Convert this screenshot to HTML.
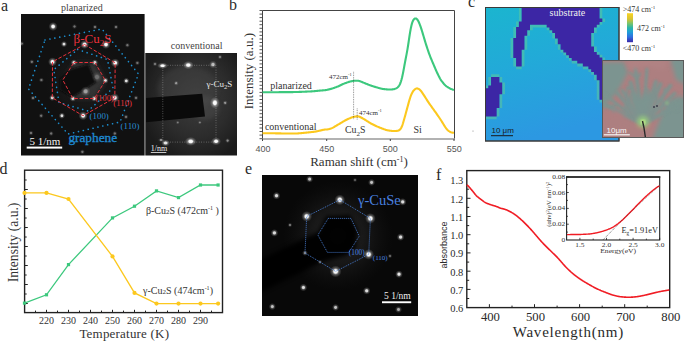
<!DOCTYPE html><html><head><meta charset="utf-8"><style>html,body{margin:0;padding:0;background:#fff;overflow:hidden;}svg{display:block;}</style></head><body>
<svg width="685" height="341" viewBox="0 0 685 341">
<defs>
<radialGradient id="sp"><stop offset="0" stop-color="#fff" stop-opacity="1"/><stop offset="0.3" stop-color="#fff" stop-opacity="0.95"/><stop offset="0.55" stop-color="#ddd" stop-opacity="0.35"/><stop offset="1" stop-color="#bbb" stop-opacity="0"/></radialGradient>
<radialGradient id="glowA" cx="0.5" cy="0.5" r="0.5"><stop offset="0" stop-color="#555" stop-opacity="0.9"/><stop offset="0.6" stop-color="#333" stop-opacity="0.5"/><stop offset="1" stop-color="#222" stop-opacity="0"/></radialGradient>
<radialGradient id="glowE"><stop offset="0" stop-color="#3a3a3a" stop-opacity="0.8"/><stop offset="0.5" stop-color="#2a2a2a" stop-opacity="0.45"/><stop offset="1" stop-color="#1a1a1a" stop-opacity="0"/></radialGradient>
<radialGradient id="glowC" cx="0.55" cy="0.45" r="0.62"><stop offset="0" stop-color="#3e3e3e"/><stop offset="0.6" stop-color="#2c2c2c"/><stop offset="1" stop-color="#1b1b1b"/></radialGradient>
<linearGradient id="cbar" x1="0" y1="0" x2="0" y2="1">
<stop offset="0" stop-color="#f9d423"/><stop offset="0.2" stop-color="#d8c231"/><stop offset="0.35" stop-color="#7cc46a"/><stop offset="0.5" stop-color="#2bb5a8"/><stop offset="0.65" stop-color="#1e9fd8"/><stop offset="0.82" stop-color="#2f6fe0"/><stop offset="1" stop-color="#3c27a8"/></linearGradient>
<linearGradient id="mapg" x1="0" y1="0" x2="0.25" y2="1"><stop offset="0" stop-color="#1bb5cf"/><stop offset="0.45" stop-color="#22aad8"/><stop offset="1" stop-color="#2c98e2"/></linearGradient><filter id="bl2" x="-20%" y="-20%" width="140%" height="140%"><feGaussianBlur stdDeviation="2"/></filter><filter id="bl1"><feGaussianBlur stdDeviation="0.8"/></filter><clipPath id="eclip"><rect x="262" y="175" width="156" height="141"/></clipPath><clipPath id="insclip"><rect x="602.5" y="60.5" width="81" height="77"/></clipPath>
<linearGradient id="photo" x1="0" y1="0" x2="1" y2="1"><stop offset="0" stop-color="#8e8a80"/><stop offset="0.3" stop-color="#a57f80"/><stop offset="0.6" stop-color="#9a8a84"/><stop offset="1" stop-color="#8a9480"/></linearGradient>
</defs>
<rect width="685" height="341" fill="#fff"/>
<text x="1" y="11" font-family='"Liberation Serif", serif' font-size="16" fill="#2a2a2a" text-anchor="start" >a</text>
<text x="229" y="10.3" font-family='"Liberation Serif", serif' font-size="16" fill="#2a2a2a" text-anchor="start" >b</text>
<text x="468" y="6.8" font-family='"Liberation Serif", serif' font-size="16" fill="#2a2a2a" text-anchor="start" >c</text>
<text x="-0.5" y="174" font-family='"Liberation Serif", serif' font-size="16" fill="#2a2a2a" text-anchor="start" >d</text>
<text x="245" y="174.3" font-family='"Liberation Serif", serif' font-size="16" fill="#2a2a2a" text-anchor="start" >e</text>
<text x="436" y="180.3" font-family='"Liberation Serif", serif' font-size="16" fill="#2a2a2a" text-anchor="start" >f</text>
<text x="61" y="10.6" font-family='"Liberation Serif", serif' font-size="10" fill="#444" text-anchor="start" >planarized</text>
<rect x="21" y="14" width="123.6" height="141.5" fill="#111"/>
<circle cx="85" cy="82" r="40" fill="url(#glowA)" opacity="0.35"/>
<polygon points="74,63 95,63 105.5,81 94.5,98.5 72.5,98.5 62.5,80" fill="#3a3a3a" opacity="0.75" filter="url(#bl2)"/>
<polygon points="69.5,69.5 88.5,64.0 96.0,82.5 72.0,97.5 60.0,90.0 60.0,79.0" fill="#0a0a0a" filter="url(#bl1)"/>
<circle cx="85.6" cy="91.3" r="5" fill="url(#sp)" opacity="0.55"/>
<circle cx="97.0" cy="77.0" r="5.5" fill="url(#sp)" opacity="0.3"/>
<circle cx="84.6" cy="44.5" r="4.5" fill="url(#sp)" opacity="1.0"/>
<circle cx="106.0" cy="44.5" r="4.5" fill="url(#sp)" opacity="1.0"/>
<circle cx="115.2" cy="62.9" r="4.5" fill="url(#sp)" opacity="1.0"/>
<circle cx="52.5" cy="61.8" r="4.5" fill="url(#sp)" opacity="1.0"/>
<circle cx="83.1" cy="115.7" r="4.5" fill="url(#sp)" opacity="1.0"/>
<circle cx="53.1" cy="26.5" r="4.5" fill="url(#sp)" opacity="1.0"/>
<circle cx="114.8" cy="97.8" r="4.5" fill="url(#sp)" opacity="1.0"/>
<circle cx="64.0" cy="44.1" r="3.2" fill="url(#sp)" opacity="0.9"/>
<circle cx="73.9" cy="62.5" r="3.2" fill="url(#sp)" opacity="0.9"/>
<circle cx="94.9" cy="62.5" r="3.2" fill="url(#sp)" opacity="0.9"/>
<circle cx="105.4" cy="80.5" r="3.2" fill="url(#sp)" opacity="0.9"/>
<circle cx="72.9" cy="98.5" r="3.2" fill="url(#sp)" opacity="0.9"/>
<circle cx="94.3" cy="98.5" r="3.2" fill="url(#sp)" opacity="0.9"/>
<circle cx="61.9" cy="115.7" r="3.2" fill="url(#sp)" opacity="0.9"/>
<circle cx="126.3" cy="80.9" r="3.2" fill="url(#sp)" opacity="0.9"/>
<circle cx="52.3" cy="97.8" r="3.2" fill="url(#sp)" opacity="0.9"/>
<circle cx="74.5" cy="26.5" r="2.6" fill="url(#sp)" opacity="0.42"/>
<circle cx="116.0" cy="27.0" r="2.6" fill="url(#sp)" opacity="0.42"/>
<circle cx="127.4" cy="45.2" r="2.6" fill="url(#sp)" opacity="0.42"/>
<circle cx="137.4" cy="62.9" r="2.6" fill="url(#sp)" opacity="0.42"/>
<circle cx="31.8" cy="61.8" r="2.6" fill="url(#sp)" opacity="0.42"/>
<circle cx="41.4" cy="80.0" r="2.6" fill="url(#sp)" opacity="0.42"/>
<circle cx="21.7" cy="43.6" r="2.6" fill="url(#sp)" opacity="0.42"/>
<circle cx="41.2" cy="115.7" r="2.6" fill="url(#sp)" opacity="0.42"/>
<circle cx="51.2" cy="133.5" r="2.6" fill="url(#sp)" opacity="0.42"/>
<circle cx="114.8" cy="133.5" r="2.6" fill="url(#sp)" opacity="0.42"/>
<circle cx="126.0" cy="116.8" r="2.6" fill="url(#sp)" opacity="0.42"/>
<circle cx="136.0" cy="97.8" r="2.6" fill="url(#sp)" opacity="0.42"/>
<circle cx="82.4" cy="151.8" r="2.6" fill="url(#sp)" opacity="0.42"/>
<circle cx="33.0" cy="98.0" r="2.6" fill="url(#sp)" opacity="0.42"/>
<circle cx="95.0" cy="27.0" r="2.6" fill="url(#sp)" opacity="0.42"/>
<circle cx="31.0" cy="133.0" r="2.6" fill="url(#sp)" opacity="0.42"/>
<polygon points="45.0,40.0 102.0,29.0 138.5,74.0 120.0,122.0 68.0,134.0 28.5,89.0" fill="none" stroke="#1c8fd0" stroke-width="1.6" stroke-dasharray="0.1 4.9" stroke-linecap="round" stroke-linejoin="round"/>
<polygon points="77.6,49.5 107.5,59.5 113.0,88.0 88.0,111.0 59.0,102.5 53.8,69.6" fill="none" stroke="#1c8fd0" stroke-width="1.6" stroke-dasharray="0.1 4.9" stroke-linecap="round" stroke-linejoin="round"/>
<polygon points="84.6,44.5 115.2,62.9 114.8,97.8 83.1,115.7 52.3,97.8 52.5,61.8" fill="none" stroke="#e8323c" stroke-width="1" stroke-dasharray="3.5 1.8"/>
<polygon points="73.9,62.5 94.9,62.5 105.4,80.5 94.3,98.5 72.9,98.5 62.8,80.0" fill="none" stroke="#e8323c" stroke-width="1" stroke-dasharray="3.5 1.8"/>
<text x="73.6" y="43.2" font-family='"Liberation Serif", serif' font-size="13" fill="#e8323c" text-anchor="start" >&#946;-Cu<tspan font-size="9" dy="3">2</tspan><tspan dy="-3">S</tspan></text>
<text x="95.6" y="100.6" font-family='"Liberation Serif", serif' font-size="8.3" fill="#e8323c" text-anchor="start" >(100)</text>
<text x="113.3" y="106" font-family='"Liberation Serif", serif' font-size="8.8" fill="#e8323c" text-anchor="start" >(110)</text>
<text x="89.6" y="118.7" font-family='"Liberation Serif", serif' font-size="8.9" fill="#2a8fd6" text-anchor="start" >(100)</text>
<text x="120.6" y="129.3" font-family='"Liberation Serif", serif' font-size="8.9" fill="#2a8fd6" text-anchor="start" >(110)</text>
<text x="68.4" y="142.1" font-family='"Liberation Serif", serif' font-size="13.3" fill="#1f88cf" text-anchor="start" stroke="#1f88cf" stroke-width="0.35">graphene</text>
<text x="29.5" y="145.4" font-family='"Liberation Serif", serif' font-size="11" fill="#f4f4f4" text-anchor="start" >5 1/nm</text>
<rect x="26.7" y="146.6" width="35.5" height="2" fill="#fff"/>
<text x="170.8" y="49" font-family='"Liberation Serif", serif' font-size="10" fill="#444" text-anchor="start" >conventional</text>
<rect x="144.8" y="53" width="1.2" height="102.5" fill="#5a5a5a"/>
<rect x="146" y="53" width="91" height="102.5" fill="url(#glowC)"/>
<clipPath id="cclip"><rect x="146" y="53" width="91" height="102.5"/></clipPath>
<g clip-path="url(#cclip)">
<ellipse cx="188" cy="88" rx="30" ry="22" fill="#4a4a4a" opacity="0.35" filter="url(#bl2)"/>
<ellipse cx="205" cy="108" rx="14" ry="12" fill="#555" opacity="0.35" filter="url(#bl2)"/>
<polygon points="140.0,98.5 202.2,93.8 205.0,116.6 140.0,122.8" fill="#0a0a0a"/>
</g>
<rect x="162.8" y="65.3" width="53.2" height="76.8" fill="none" stroke="#aaa" stroke-width="0.7" stroke-dasharray="0.8 1.6" opacity="0.8"/>
<ellipse cx="162.6" cy="65.7" rx="5.5" ry="3.2" fill="url(#sp)" opacity="1"/>
<ellipse cx="188.3" cy="65.1" rx="5.5" ry="4.2" fill="url(#sp)" opacity="1"/>
<ellipse cx="213" cy="64.5" rx="4" ry="4" fill="url(#sp)" opacity="0.7"/>
<ellipse cx="214.9" cy="102.8" rx="5" ry="6" fill="url(#sp)" opacity="1"/>
<ellipse cx="165.6" cy="143" rx="4.5" ry="3.5" fill="url(#sp)" opacity="0.9"/>
<ellipse cx="190.7" cy="141.4" rx="6" ry="4.5" fill="url(#sp)" opacity="1"/>
<ellipse cx="216.1" cy="141.3" rx="5" ry="4" fill="url(#sp)" opacity="1"/>
<ellipse cx="176.2" cy="83.2" rx="2.5" ry="2.5" fill="url(#sp)" opacity="0.5"/>
<ellipse cx="227.6" cy="140.6" rx="2.5" ry="2.5" fill="url(#sp)" opacity="0.5"/>
<ellipse cx="225.2" cy="102.8" rx="2.5" ry="2.5" fill="url(#sp)" opacity="0.5"/>
<ellipse cx="155" cy="64" rx="2.5" ry="2.5" fill="url(#sp)" opacity="0.4"/>
<ellipse cx="220" cy="57" rx="2.5" ry="2.5" fill="url(#sp)" opacity="0.4"/>
<ellipse cx="177.7" cy="122.5" rx="2" ry="2" fill="url(#sp)" opacity="0.4"/>
<ellipse cx="199.8" cy="122.5" rx="2" ry="2" fill="url(#sp)" opacity="0.4"/>
<ellipse cx="161" cy="140" rx="3" ry="2" fill="url(#sp)" opacity="0.5"/>
<text x="206.5" y="86.6" font-family='"Liberation Serif", serif' font-size="9" fill="#e8e8e8" text-anchor="start" >&#947;-Cu<tspan font-size="6.5" dy="2">2</tspan><tspan dy="-2">S</tspan></text>
<text x="150.8" y="151" font-family='"Liberation Serif", serif' font-size="8" fill="#eee" text-anchor="start" >1/nm</text>
<rect x="150.8" y="152" width="15.5" height="0.9" fill="#ddd"/>
<text x="252.7" y="109.2" font-family='"Liberation Serif", serif' font-size="13" fill="#333" text-anchor="start" transform="rotate(-90 252.7 109.2)">Intensity (a.u.)</text>
<path d="M262.5,139 V10.5 H454.5 V139" fill="none" stroke="#444" stroke-width="1"/>
<line x1="262" y1="138.9" x2="455" y2="138.9" stroke="#999" stroke-width="1.5"/>
<path d="M259.5,10.5H262.5M259.5,14.1H262.5M259.5,17.6H262.5M259.5,21.2H262.5M259.5,24.7H262.5M259.5,28.3H262.5M259.5,31.9H262.5M259.5,35.4H262.5M259.5,39.0H262.5M259.5,42.5H262.5M259.5,46.1H262.5M259.5,49.7H262.5M259.5,53.2H262.5M259.5,56.8H262.5M259.5,60.3H262.5M259.5,63.9H262.5M259.5,67.5H262.5M259.5,71.0H262.5M259.5,74.6H262.5M259.5,78.1H262.5M259.5,81.7H262.5M259.5,85.3H262.5M259.5,88.8H262.5M259.5,92.4H262.5M259.5,95.9H262.5M259.5,99.5H262.5M259.5,103.1H262.5M259.5,106.6H262.5M259.5,110.2H262.5M259.5,113.7H262.5M259.5,117.3H262.5M259.5,120.9H262.5M259.5,124.4H262.5M259.5,128.0H262.5M259.5,131.5H262.5M259.5,135.1H262.5M259.5,138.7H262.5" stroke="#444" stroke-width="0.9"/>
<path d="M262.5,139V141 M326.7,139V141 M390.3,139V141 M454,139V141" stroke="#444" stroke-width="1"/>
<text x="262.9" y="152.3" font-family='"Liberation Sans", sans-serif' font-size="9" fill="#555" text-anchor="middle" >400</text>
<text x="326.7" y="152.3" font-family='"Liberation Sans", sans-serif' font-size="9" fill="#555" text-anchor="middle" >450</text>
<text x="390.3" y="152.3" font-family='"Liberation Sans", sans-serif' font-size="9" fill="#555" text-anchor="middle" >500</text>
<text x="454.2" y="152.3" font-family='"Liberation Sans", sans-serif' font-size="9" fill="#555" text-anchor="middle" >550</text>
<text x="310.2" y="166" font-family='"Liberation Serif", serif' font-size="13" fill="#333" text-anchor="start" >Raman shift (cm<tspan font-size="8" dy="-4">-1</tspan><tspan dy="4">)</tspan></text>
<path d="M262.50,92.30 L263.00,92.30 L263.50,92.30 L264.00,92.30 L264.50,92.30 L265.00,92.30 L265.50,92.30 L266.00,92.30 L266.50,92.30 L267.00,92.30 L267.50,92.30 L268.00,92.30 L268.50,92.30 L269.00,92.30 L269.50,92.30 L270.00,92.30 L270.50,92.30 L271.00,92.30 L271.50,92.30 L272.00,92.29 L272.50,92.29 L273.00,92.28 L273.50,92.27 L274.00,92.26 L274.50,92.25 L275.00,92.25 L275.50,92.24 L276.00,92.23 L276.50,92.22 L277.00,92.21 L277.50,92.20 L278.00,92.19 L278.50,92.18 L279.00,92.17 L279.50,92.16 L280.00,92.15 L280.50,92.14 L281.00,92.13 L281.50,92.12 L282.00,92.11 L282.50,92.11 L283.00,92.10 L283.50,92.10 L284.00,92.10 L284.50,92.10 L285.00,92.10 L285.50,92.10 L286.00,92.10 L286.50,92.10 L287.00,92.10 L287.50,92.10 L288.00,92.10 L288.50,92.10 L289.00,92.10 L289.50,92.10 L290.00,92.10 L290.50,92.10 L291.00,92.10 L291.50,92.10 L292.00,92.10 L292.50,92.09 L293.00,92.08 L293.50,92.07 L294.00,92.06 L294.50,92.05 L295.00,92.03 L295.50,92.02 L296.00,92.00 L296.50,91.99 L297.00,91.97 L297.50,91.96 L298.00,91.94 L298.50,91.93 L299.00,91.91 L299.50,91.90 L300.00,91.89 L300.50,91.87 L301.00,91.86 L301.50,91.84 L302.00,91.82 L302.50,91.81 L303.00,91.79 L303.50,91.77 L304.00,91.74 L304.50,91.72 L305.00,91.70 L305.50,91.67 L306.00,91.65 L306.50,91.62 L307.00,91.60 L307.50,91.57 L308.00,91.55 L308.50,91.53 L309.00,91.50 L309.50,91.48 L310.00,91.45 L310.50,91.43 L311.00,91.40 L311.50,91.38 L312.00,91.35 L312.50,91.32 L313.00,91.29 L313.50,91.25 L314.00,91.20 L314.50,91.16 L315.00,91.11 L315.50,91.06 L316.00,91.01 L316.50,90.96 L317.00,90.90 L317.50,90.85 L318.00,90.80 L318.50,90.75 L319.00,90.70 L319.50,90.65 L320.00,90.61 L320.50,90.56 L321.00,90.52 L321.50,90.48 L322.00,90.43 L322.50,90.39 L323.00,90.35 L323.50,90.31 L324.00,90.27 L324.50,90.22 L325.00,90.17 L325.50,90.11 L326.00,90.04 L326.50,89.95 L327.00,89.85 L327.50,89.73 L328.00,89.62 L328.50,89.50 L329.00,89.38 L329.50,89.25 L330.00,89.13 L330.50,89.01 L331.00,88.88 L331.50,88.74 L332.00,88.59 L332.50,88.43 L333.00,88.27 L333.50,88.09 L334.00,87.92 L334.50,87.74 L335.00,87.56 L335.50,87.38 L336.00,87.20 L336.50,87.02 L337.00,86.83 L337.50,86.63 L338.00,86.42 L338.50,86.20 L339.00,85.97 L339.50,85.73 L340.00,85.49 L340.50,85.25 L341.00,85.01 L341.50,84.77 L342.00,84.53 L342.50,84.29 L343.00,84.07 L343.50,83.85 L344.00,83.65 L344.50,83.45 L345.00,83.27 L345.50,83.09 L346.00,82.91 L346.50,82.73 L347.00,82.55 L347.50,82.38 L348.00,82.20 L348.50,82.03 L349.00,81.87 L349.50,81.73 L350.00,81.59 L350.50,81.47 L351.00,81.36 L351.50,81.24 L352.00,81.14 L352.50,81.03 L353.00,80.93 L353.50,80.85 L354.00,80.78 L354.50,80.74 L355.00,80.72 L355.50,80.71 L356.00,80.70 L356.50,80.70 L357.00,80.71 L357.50,80.72 L358.00,80.76 L358.50,80.83 L359.00,80.93 L359.50,81.07 L360.00,81.24 L360.50,81.43 L361.00,81.63 L361.50,81.83 L362.00,82.03 L362.50,82.24 L363.00,82.44 L363.50,82.64 L364.00,82.85 L364.50,83.06 L365.00,83.26 L365.50,83.47 L366.00,83.68 L366.50,83.88 L367.00,84.09 L367.50,84.29 L368.00,84.50 L368.50,84.70 L369.00,84.89 L369.50,85.07 L370.00,85.25 L370.50,85.42 L371.00,85.59 L371.50,85.75 L372.00,85.92 L372.50,86.08 L373.00,86.24 L373.50,86.41 L374.00,86.57 L374.50,86.73 L375.00,86.88 L375.50,87.03 L376.00,87.18 L376.50,87.32 L377.00,87.46 L377.50,87.60 L378.00,87.75 L378.50,87.89 L379.00,88.03 L379.50,88.17 L380.00,88.31 L380.50,88.45 L381.00,88.58 L381.50,88.70 L382.00,88.81 L382.50,88.90 L383.00,88.97 L383.50,89.03 L384.00,89.09 L384.50,89.14 L385.00,89.19 L385.50,89.24 L386.00,89.29 L386.50,89.34 L387.00,89.39 L387.50,89.44 L388.00,89.48 L388.50,89.51 L389.00,89.53 L389.50,89.54 L390.00,89.52 L390.50,89.50 L391.00,89.47 L391.50,89.44 L392.00,89.41 L392.50,89.36 L393.00,89.30 L393.50,89.22 L394.00,89.11 L394.50,88.98 L395.00,88.81 L395.50,88.62 L396.00,88.41 L396.50,88.15 L397.00,87.85 L397.50,87.49 L398.00,87.04 L398.50,86.50 L399.00,85.82 L399.50,84.99 L400.00,83.99 L400.50,82.77 L401.00,81.31 L401.50,79.60 L402.00,77.66 L402.50,75.50 L403.00,73.11 L403.50,70.54 L404.00,67.82 L404.50,65.05 L405.00,62.33 L405.50,59.71 L406.00,57.16 L406.50,54.60 L407.00,51.93 L407.50,49.08 L408.00,46.01 L408.50,42.74 L409.00,39.37 L409.50,36.03 L410.00,32.86 L410.50,29.96 L411.00,27.40 L411.50,25.22 L412.00,23.39 L412.50,21.92 L413.00,20.76 L413.50,19.87 L414.00,19.22 L414.50,18.78 L415.00,18.53 L415.50,18.44 L416.00,18.53 L416.50,18.79 L417.00,19.21 L417.50,19.80 L418.00,20.56 L418.50,21.48 L419.00,22.55 L419.50,23.75 L420.00,25.06 L420.50,26.45 L421.00,27.92 L421.50,29.45 L422.00,31.03 L422.50,32.66 L423.00,34.33 L423.50,36.03 L424.00,37.73 L424.50,39.42 L425.00,41.08 L425.50,42.73 L426.00,44.34 L426.50,45.92 L427.00,47.45 L427.50,48.96 L428.00,50.42 L428.50,51.87 L429.00,53.28 L429.50,54.66 L430.00,55.99 L430.50,57.27 L431.00,58.50 L431.50,59.70 L432.00,60.88 L432.50,62.06 L433.00,63.23 L433.50,64.40 L434.00,65.57 L434.50,66.74 L435.00,67.91 L435.50,69.08 L436.00,70.23 L436.50,71.36 L437.00,72.47 L437.50,73.53 L438.00,74.57 L438.50,75.59 L439.00,76.58 L439.50,77.54 L440.00,78.46 L440.50,79.31 L441.00,80.09 L441.50,80.80 L442.00,81.46 L442.50,82.10 L443.00,82.73 L443.50,83.35 L444.00,83.96 L444.50,84.53 L445.00,85.06 L445.50,85.52 L446.00,85.93 L446.50,86.30 L447.00,86.64 L447.50,86.96 L448.00,87.28 L448.50,87.60 L449.00,87.90 L449.50,88.19 L450.00,88.45 L450.50,88.70 L451.00,88.92 L451.50,89.13 L452.00,89.33 L452.50,89.52 L453.00,89.69 L453.50,89.85 L454.00,89.97" fill="none" stroke="#3cc87d" stroke-width="2.1" stroke-linejoin="round"/>
<path d="M262.50,133.30 L263.00,133.30 L263.50,133.30 L264.00,133.30 L264.50,133.30 L265.00,133.30 L265.50,133.30 L266.00,133.30 L266.50,133.30 L267.00,133.30 L267.50,133.30 L268.00,133.30 L268.50,133.30 L269.00,133.30 L269.50,133.30 L270.00,133.30 L270.50,133.30 L271.00,133.30 L271.50,133.30 L272.00,133.30 L272.50,133.30 L273.00,133.30 L273.50,133.31 L274.00,133.31 L274.50,133.32 L275.00,133.32 L275.50,133.33 L276.00,133.34 L276.50,133.35 L277.00,133.36 L277.50,133.36 L278.00,133.37 L278.50,133.38 L279.00,133.39 L279.50,133.40 L280.00,133.41 L280.50,133.42 L281.00,133.42 L281.50,133.43 L282.00,133.44 L282.50,133.45 L283.00,133.46 L283.50,133.47 L284.00,133.48 L284.50,133.48 L285.00,133.49 L285.50,133.49 L286.00,133.50 L286.50,133.50 L287.00,133.50 L287.50,133.50 L288.00,133.50 L288.50,133.50 L289.00,133.50 L289.50,133.50 L290.00,133.50 L290.50,133.50 L291.00,133.50 L291.50,133.50 L292.00,133.50 L292.50,133.50 L293.00,133.50 L293.50,133.50 L294.00,133.50 L294.50,133.50 L295.00,133.50 L295.50,133.50 L296.00,133.49 L296.50,133.48 L297.00,133.46 L297.50,133.44 L298.00,133.40 L298.50,133.36 L299.00,133.31 L299.50,133.26 L300.00,133.22 L300.50,133.17 L301.00,133.12 L301.50,133.08 L302.00,133.03 L302.50,132.98 L303.00,132.94 L303.50,132.89 L304.00,132.84 L304.50,132.79 L305.00,132.75 L305.50,132.70 L306.00,132.65 L306.50,132.61 L307.00,132.56 L307.50,132.51 L308.00,132.46 L308.50,132.41 L309.00,132.36 L309.50,132.31 L310.00,132.25 L310.50,132.19 L311.00,132.14 L311.50,132.08 L312.00,132.02 L312.50,131.97 L313.00,131.91 L313.50,131.85 L314.00,131.79 L314.50,131.73 L315.00,131.66 L315.50,131.59 L316.00,131.50 L316.50,131.40 L317.00,131.29 L317.50,131.18 L318.00,131.06 L318.50,130.95 L319.00,130.83 L319.50,130.71 L320.00,130.60 L320.50,130.48 L321.00,130.36 L321.50,130.23 L322.00,130.11 L322.50,129.99 L323.00,129.88 L323.50,129.78 L324.00,129.69 L324.50,129.63 L325.00,129.58 L325.50,129.54 L326.00,129.51 L326.50,129.48 L327.00,129.44 L327.50,129.40 L328.00,129.33 L328.50,129.23 L329.00,129.11 L329.50,128.97 L330.00,128.82 L330.50,128.67 L331.00,128.50 L331.50,128.32 L332.00,128.12 L332.50,127.89 L333.00,127.63 L333.50,127.35 L334.00,127.06 L334.50,126.76 L335.00,126.45 L335.50,126.15 L336.00,125.85 L336.50,125.55 L337.00,125.25 L337.50,124.96 L338.00,124.66 L338.50,124.37 L339.00,124.08 L339.50,123.78 L340.00,123.49 L340.50,123.19 L341.00,122.89 L341.50,122.59 L342.00,122.28 L342.50,121.98 L343.00,121.68 L343.50,121.38 L344.00,121.09 L344.50,120.80 L345.00,120.53 L345.50,120.27 L346.00,120.02 L346.50,119.77 L347.00,119.53 L347.50,119.29 L348.00,119.05 L348.50,118.82 L349.00,118.60 L349.50,118.38 L350.00,118.16 L350.50,117.96 L351.00,117.75 L351.50,117.55 L352.00,117.36 L352.50,117.19 L353.00,117.04 L353.50,116.91 L354.00,116.80 L354.50,116.70 L355.00,116.61 L355.50,116.53 L356.00,116.45 L356.50,116.40 L357.00,116.35 L357.50,116.33 L358.00,116.35 L358.50,116.43 L359.00,116.56 L359.50,116.75 L360.00,116.98 L360.50,117.23 L361.00,117.49 L361.50,117.75 L362.00,118.02 L362.50,118.29 L363.00,118.57 L363.50,118.86 L364.00,119.16 L364.50,119.46 L365.00,119.76 L365.50,120.07 L366.00,120.38 L366.50,120.69 L367.00,121.01 L367.50,121.32 L368.00,121.65 L368.50,121.97 L369.00,122.29 L369.50,122.61 L370.00,122.92 L370.50,123.22 L371.00,123.50 L371.50,123.77 L372.00,124.02 L372.50,124.27 L373.00,124.51 L373.50,124.75 L374.00,125.00 L374.50,125.24 L375.00,125.48 L375.50,125.72 L376.00,125.96 L376.50,126.19 L377.00,126.42 L377.50,126.63 L378.00,126.85 L378.50,127.06 L379.00,127.26 L379.50,127.47 L380.00,127.68 L380.50,127.88 L381.00,128.08 L381.50,128.28 L382.00,128.48 L382.50,128.67 L383.00,128.85 L383.50,129.03 L384.00,129.21 L384.50,129.38 L385.00,129.56 L385.50,129.73 L386.00,129.90 L386.50,130.05 L387.00,130.19 L387.50,130.31 L388.00,130.40 L388.50,130.48 L389.00,130.56 L389.50,130.63 L390.00,130.70 L390.50,130.76 L391.00,130.83 L391.50,130.88 L392.00,130.93 L392.50,130.96 L393.00,130.98 L393.50,130.99 L394.00,131.00 L394.50,131.00 L395.00,130.99 L395.50,130.97 L396.00,130.94 L396.50,130.90 L397.00,130.84 L397.50,130.76 L398.00,130.67 L398.50,130.53 L399.00,130.32 L399.50,130.00 L400.00,129.57 L400.50,128.99 L401.00,128.24 L401.50,127.31 L402.00,126.15 L402.50,124.78 L403.00,123.24 L403.50,121.57 L404.00,119.83 L404.50,118.05 L405.00,116.24 L405.50,114.41 L406.00,112.57 L406.50,110.72 L407.00,108.87 L407.50,107.02 L408.00,105.19 L408.50,103.38 L409.00,101.59 L409.50,99.86 L410.00,98.22 L410.50,96.72 L411.00,95.37 L411.50,94.18 L412.00,93.13 L412.50,92.20 L413.00,91.39 L413.50,90.70 L414.00,90.14 L414.50,89.66 L415.00,89.25 L415.50,88.90 L416.00,88.63 L416.50,88.45 L417.00,88.40 L417.50,88.47 L418.00,88.63 L418.50,88.86 L419.00,89.14 L419.50,89.48 L420.00,89.89 L420.50,90.40 L421.00,91.00 L421.50,91.66 L422.00,92.37 L422.50,93.10 L423.00,93.84 L423.50,94.59 L424.00,95.36 L424.50,96.13 L425.00,96.92 L425.50,97.71 L426.00,98.50 L426.50,99.29 L427.00,100.08 L427.50,100.86 L428.00,101.63 L428.50,102.37 L429.00,103.10 L429.50,103.82 L430.00,104.53 L430.50,105.24 L431.00,105.94 L431.50,106.65 L432.00,107.35 L432.50,108.05 L433.00,108.75 L433.50,109.45 L434.00,110.14 L434.50,110.83 L435.00,111.53 L435.50,112.22 L436.00,112.92 L436.50,113.62 L437.00,114.34 L437.50,115.06 L438.00,115.78 L438.50,116.52 L439.00,117.26 L439.50,118.00 L440.00,118.74 L440.50,119.49 L441.00,120.26 L441.50,121.04 L442.00,121.85 L442.50,122.67 L443.00,123.50 L443.50,124.33 L444.00,125.15 L444.50,125.95 L445.00,126.71 L445.50,127.45 L446.00,128.14 L446.50,128.79 L447.00,129.39 L447.50,129.92 L448.00,130.38 L448.50,130.78 L449.00,131.14 L449.50,131.46 L450.00,131.76 L450.50,132.03 L451.00,132.25 L451.50,132.41 L452.00,132.53 L452.50,132.61 L453.00,132.67 L453.50,132.71 L454.00,132.74" fill="none" stroke="#fcc81e" stroke-width="2.1" stroke-linejoin="round"/>
<text x="270.2" y="89.3" font-family='"Liberation Serif", serif' font-size="10" fill="#333" text-anchor="start" >planarized</text>
<text x="264.9" y="130.2" font-family='"Liberation Serif", serif' font-size="10" fill="#333" text-anchor="start" >conventional</text>
<line x1="353.6" y1="71.8" x2="353.6" y2="119.5" stroke="#333" stroke-width="0.6" stroke-dasharray="0.8 0.9"/>
<line x1="357.2" y1="108.5" x2="357.2" y2="119.5" stroke="#333" stroke-width="0.6" stroke-dasharray="0.8 0.9"/>
<text x="328.9" y="79.4" font-family='"Liberation Serif", serif' font-size="7" fill="#333" text-anchor="start" >472cm<tspan font-size="4.5" dy="-3">-1</tspan></text>
<text x="359" y="114.7" font-family='"Liberation Serif", serif' font-size="7" fill="#333" text-anchor="start" >474cm<tspan font-size="4.5" dy="-3">-1</tspan></text>
<text x="345" y="133.2" font-family='"Liberation Serif", serif' font-size="9.8" fill="#333" text-anchor="start" >Cu<tspan font-size="7" dy="2.6">2</tspan><tspan dy="-2.6">S</tspan></text>
<text x="413.5" y="132.5" font-family='"Liberation Serif", serif' font-size="10" fill="#333" text-anchor="start" >Si</text>
<rect x="485.5" y="7.5" width="133.5" height="133.5" fill="url(#mapg)" stroke="#3a3a3a" stroke-width="1"/>
<path d="M518.88,7.50h2.78v3.28h-2.78zM599.53,7.50h2.78v3.28h-2.78zM518.88,10.28h2.78v3.28h-2.78zM599.53,10.28h2.78v3.28h-2.78zM518.88,13.06h2.78v3.28h-2.78zM599.53,13.06h2.78v3.28h-2.78zM518.88,15.84h2.78v3.28h-2.78zM599.53,15.84h2.78v3.28h-2.78zM518.88,18.62h2.78v3.28h-2.78zM602.31,18.62h2.78v3.28h-2.78zM516.09,21.41h2.78v3.28h-2.78zM599.53,21.41h2.78v3.28h-2.78zM516.09,24.19h2.78v3.28h-2.78zM530.00,24.19h16.69v3.28h-16.69zM596.75,24.19h2.78v3.28h-2.78zM513.31,26.97h2.78v3.28h-2.78zM530.00,26.97h2.78v3.28h-2.78zM546.69,26.97h2.78v3.28h-2.78zM593.97,26.97h2.78v3.28h-2.78zM513.31,29.75h2.78v3.28h-2.78zM527.22,29.75h2.78v3.28h-2.78zM549.47,29.75h2.78v3.28h-2.78zM593.97,29.75h2.78v3.28h-2.78zM513.31,32.53h2.78v3.28h-2.78zM527.22,32.53h2.78v3.28h-2.78zM552.25,32.53h2.78v3.28h-2.78zM591.19,32.53h2.78v3.28h-2.78zM513.31,35.31h2.78v3.28h-2.78zM524.44,35.31h2.78v3.28h-2.78zM552.25,35.31h2.78v3.28h-2.78zM591.19,35.31h2.78v3.28h-2.78zM510.53,38.09h2.78v3.28h-2.78zM524.44,38.09h2.78v3.28h-2.78zM555.03,38.09h2.78v3.28h-2.78zM591.19,38.09h2.78v3.28h-2.78zM510.53,40.88h2.78v3.28h-2.78zM524.44,40.88h2.78v3.28h-2.78zM555.03,40.88h2.78v3.28h-2.78zM591.19,40.88h2.78v3.28h-2.78zM510.53,43.66h2.78v3.28h-2.78zM524.44,43.66h2.78v3.28h-2.78zM557.81,43.66h2.78v3.28h-2.78zM591.19,43.66h2.78v3.28h-2.78zM510.53,46.44h2.78v3.28h-2.78zM524.44,46.44h2.78v3.28h-2.78zM557.81,46.44h2.78v3.28h-2.78zM593.97,46.44h2.78v3.28h-2.78zM510.53,49.22h2.78v3.28h-2.78zM521.66,49.22h2.78v3.28h-2.78zM560.59,49.22h2.78v3.28h-2.78zM593.97,49.22h2.78v3.28h-2.78zM510.53,52.00h2.78v3.28h-2.78zM521.66,52.00h2.78v3.28h-2.78zM563.38,52.00h2.78v3.28h-2.78zM596.75,52.00h2.78v3.28h-2.78zM510.53,54.78h2.78v3.28h-2.78zM521.66,54.78h2.78v3.28h-2.78zM566.16,54.78h2.78v3.28h-2.78zM599.53,54.78h2.78v3.28h-2.78zM513.31,57.56h2.78v3.28h-2.78zM521.66,57.56h2.78v3.28h-2.78zM568.94,57.56h2.78v3.28h-2.78zM602.31,57.56h2.78v3.28h-2.78zM513.31,60.34h2.78v3.28h-2.78zM521.66,60.34h2.78v3.28h-2.78zM571.72,60.34h5.56v3.28h-5.56zM602.31,60.34h2.78v3.28h-2.78zM513.31,63.12h2.78v3.28h-2.78zM521.66,63.12h2.78v3.28h-2.78zM577.28,63.12h5.56v3.28h-5.56zM602.31,63.12h2.78v3.28h-2.78zM516.09,65.91h5.56v3.28h-5.56zM582.84,65.91h5.56v3.28h-5.56zM602.31,65.91h2.78v3.28h-2.78zM588.41,68.69h2.78v3.28h-2.78zM602.31,68.69h2.78v3.28h-2.78zM591.19,71.47h2.78v3.28h-2.78zM602.31,71.47h2.78v3.28h-2.78zM491.06,74.25h8.34v3.28h-8.34zM593.97,74.25h2.78v3.28h-2.78zM602.31,74.25h2.78v3.28h-2.78zM488.28,77.03h2.78v3.28h-2.78zM499.41,77.03h2.78v3.28h-2.78zM593.97,77.03h2.78v3.28h-2.78zM602.31,77.03h2.78v3.28h-2.78zM488.28,79.81h2.78v3.28h-2.78zM499.41,79.81h2.78v3.28h-2.78zM596.75,79.81h2.78v3.28h-2.78zM602.31,79.81h2.78v3.28h-2.78zM488.28,82.59h2.78v3.28h-2.78zM502.19,82.59h2.78v3.28h-2.78zM596.75,82.59h2.78v3.28h-2.78zM602.31,82.59h2.78v3.28h-2.78zM485.50,85.38h2.78v3.28h-2.78zM502.19,85.38h2.78v3.28h-2.78zM596.75,85.38h2.78v3.28h-2.78zM602.31,85.38h2.78v3.28h-2.78zM502.19,88.16h2.78v3.28h-2.78zM596.75,88.16h2.78v3.28h-2.78zM602.31,88.16h2.78v3.28h-2.78zM502.19,90.94h2.78v3.28h-2.78zM596.75,90.94h2.78v3.28h-2.78zM602.31,90.94h2.78v3.28h-2.78zM499.41,93.72h2.78v3.28h-2.78zM596.75,93.72h2.78v3.28h-2.78zM602.31,93.72h2.78v3.28h-2.78zM499.41,96.50h2.78v3.28h-2.78zM596.75,96.50h2.78v3.28h-2.78zM602.31,96.50h2.78v3.28h-2.78zM499.41,99.28h2.78v3.28h-2.78zM599.53,99.28h2.78v3.28h-2.78zM499.41,102.06h2.78v3.28h-2.78zM499.41,104.84h2.78v3.28h-2.78zM496.62,107.62h2.78v3.28h-2.78zM496.62,110.41h2.78v3.28h-2.78zM496.62,113.19h2.78v3.28h-2.78zM485.50,115.97h11.12v3.28h-11.12z" fill="#5cc89a" opacity="0.55"/>
<path d="M521.66,7.50h77.88v3.28h-77.88zM521.66,10.28h77.88v3.28h-77.88zM521.66,13.06h77.88v3.28h-77.88zM521.66,15.84h77.88v3.28h-77.88zM521.66,18.62h80.66v3.28h-80.66zM518.88,21.41h80.66v3.28h-80.66zM518.88,24.19h11.12v3.28h-11.12zM546.69,24.19h50.06v3.28h-50.06zM516.09,26.97h13.91v3.28h-13.91zM549.47,26.97h44.50v3.28h-44.50zM516.09,29.75h11.12v3.28h-11.12zM552.25,29.75h41.72v3.28h-41.72zM516.09,32.53h11.12v3.28h-11.12zM555.03,32.53h36.16v3.28h-36.16zM516.09,35.31h8.34v3.28h-8.34zM555.03,35.31h36.16v3.28h-36.16zM513.31,38.09h11.12v3.28h-11.12zM557.81,38.09h33.38v3.28h-33.38zM513.31,40.88h11.12v3.28h-11.12zM557.81,40.88h33.38v3.28h-33.38zM513.31,43.66h11.12v3.28h-11.12zM560.59,43.66h30.59v3.28h-30.59zM513.31,46.44h11.12v3.28h-11.12zM560.59,46.44h33.38v3.28h-33.38zM513.31,49.22h8.34v3.28h-8.34zM563.38,49.22h30.59v3.28h-30.59zM513.31,52.00h8.34v3.28h-8.34zM566.16,52.00h30.59v3.28h-30.59zM513.31,54.78h8.34v3.28h-8.34zM568.94,54.78h30.59v3.28h-30.59zM516.09,57.56h5.56v3.28h-5.56zM571.72,57.56h30.59v3.28h-30.59zM516.09,60.34h5.56v3.28h-5.56zM577.28,60.34h25.03v3.28h-25.03zM516.09,63.12h5.56v3.28h-5.56zM582.84,63.12h19.47v3.28h-19.47zM588.41,65.91h13.91v3.28h-13.91zM591.19,68.69h11.12v3.28h-11.12zM593.97,71.47h8.34v3.28h-8.34zM596.75,74.25h5.56v3.28h-5.56zM491.06,77.03h8.34v3.28h-8.34zM596.75,77.03h5.56v3.28h-5.56zM491.06,79.81h8.34v3.28h-8.34zM599.53,79.81h2.78v3.28h-2.78zM491.06,82.59h11.12v3.28h-11.12zM599.53,82.59h2.78v3.28h-2.78zM488.28,85.38h13.91v3.28h-13.91zM599.53,85.38h2.78v3.28h-2.78zM485.50,88.16h16.69v3.28h-16.69zM599.53,88.16h2.78v3.28h-2.78zM485.50,90.94h16.69v3.28h-16.69zM599.53,90.94h2.78v3.28h-2.78zM485.50,93.72h13.91v3.28h-13.91zM599.53,93.72h2.78v3.28h-2.78zM485.50,96.50h13.91v3.28h-13.91zM599.53,96.50h2.78v3.28h-2.78zM485.50,99.28h13.91v3.28h-13.91zM485.50,102.06h13.91v3.28h-13.91zM485.50,104.84h13.91v3.28h-13.91zM485.50,107.62h11.12v3.28h-11.12zM485.50,110.41h11.12v3.28h-11.12zM485.50,113.19h11.12v3.28h-11.12z" fill="#3c26a5" opacity="1"/>
<rect x="485.5" y="7.5" width="133.5" height="133.5" fill="none" stroke="#3a3a3a" stroke-width="1"/>
<text x="549.6" y="16.4" font-family='"Liberation Serif", serif' font-size="10" fill="#eee" text-anchor="start" >substrate</text>
<text x="491.5" y="133.4" font-family='"Liberation Sans", sans-serif' font-size="8" fill="#1a1a1a" text-anchor="start" >10 &#956;m</text>
<rect x="491" y="135.2" width="22" height="1" fill="#1a1a1a"/>
<rect x="602.5" y="60.5" width="81" height="77" fill="#ad7f80"/>
<g clip-path="url(#insclip)"><g filter="url(#bl2)" fill="#7c9490">
<polygon points="600,62 624,62 628,72 622,84 616,94 608,102 602,110 598,110"/>
<polygon points="652,140 662,114 668,100 678,96 688,98 688,142"/>
<polygon points="670,58 688,58 688,86 676,80"/>
</g>
<g stroke="#7c9490" stroke-linecap="round" fill="none" filter="url(#bl1)" opacity="0.9"><path d="M643,124 L606.2,105.3" stroke-width="4.6"/><path d="M628.9,116.8 L622.6,117.4" stroke-width="2"/><path d="M621.7,113.2 L613.2,113.1" stroke-width="2"/><path d="M643,124 L603.2,93.5" stroke-width="3.1"/><path d="M618.9,105.6 L609.4,105.6" stroke-width="2"/><path d="M628.0,112.5 L624.7,105.9" stroke-width="2"/><path d="M643,124 L616.9,92.5" stroke-width="4.0"/><path d="M627.5,105.3 L626.9,95.2" stroke-width="2"/><path d="M632.6,111.5 L623.8,108.7" stroke-width="2"/><path d="M643,124 L622.4,90.5" stroke-width="3.5"/><path d="M629.5,102.0 L630.8,93.3" stroke-width="2"/><path d="M627.2,98.4 L627.1,87.6" stroke-width="2"/><path d="M643,124 L630.5,82.5" stroke-width="4.4"/><path d="M635.6,99.7 L638.6,92.5" stroke-width="2"/><path d="M633.1,91.2 L627.6,86.9" stroke-width="2"/><path d="M643,124 L634.9,66.0" stroke-width="4.1"/><path d="M636.7,78.6 L629.6,72.3" stroke-width="2"/><path d="M637.0,80.9 L640.3,73.5" stroke-width="2"/><path d="M643,124 L646.9,68.6" stroke-width="3.2"/><path d="M644.5,102.3 L650.7,94.5" stroke-width="2"/><path d="M644.5,103.1 L652.4,94.2" stroke-width="2"/><path d="M643,124 L655.9,81.7" stroke-width="4.0"/><path d="M651.4,96.4 L647.7,89.2" stroke-width="2"/><path d="M651.1,97.5 L658.3,89.8" stroke-width="2"/><path d="M643,124 L660.5,84.2" stroke-width="4.0"/><path d="M656.0,94.5 L655.3,86.1" stroke-width="2"/><path d="M651.3,105.1 L647.9,94.5" stroke-width="2"/><path d="M643,124 L670.5,85.7" stroke-width="3.9"/><path d="M663.6,95.4 L664.5,88.4" stroke-width="2"/><path d="M655.5,106.6 L657.5,95.8" stroke-width="2"/><path d="M643,124 L674.8,93.3" stroke-width="3.4"/><path d="M661.8,105.9 L672.0,105.9" stroke-width="2"/><path d="M661.5,106.2 L663.9,95.2" stroke-width="2"/><path d="M643,124 L689.6,98.9" stroke-width="4.4"/><path d="M667.7,110.7 L677.5,110.5" stroke-width="2"/><path d="M660.6,114.5 L663.2,106.2" stroke-width="2"/></g>
<polygon points="643,126 630,100 634,92 640,100 646,90 652,100" fill="#7c9490" filter="url(#bl2)"/>
<polygon points="604,118 616,110 626,118 622,136 604,136" fill="#ad7f80" filter="url(#bl2)"/>
<polygon points="626,60 668,60 664,70 646,66 630,70" fill="#b08283" filter="url(#bl2)"/>
<circle cx="643" cy="122" r="6" fill="#a8f070" opacity="0.55" filter="url(#bl2)"/>
<circle cx="643" cy="122" r="2.5" fill="#d8ff90" opacity="0.6" filter="url(#bl1)"/>
<path d="M642.5,121 L644,128 L645.5,138" stroke="#2a2a2a" stroke-width="1.4" fill="none"/>
<circle cx="654" cy="107" r="0.9" fill="#334"/><circle cx="657" cy="106" r="0.9" fill="#334"/>
<circle cx="667" cy="103" r="2" fill="#8c8" opacity="0.5" filter="url(#bl1)"/>
</g>
<rect x="602.5" y="60.5" width="81" height="77" fill="none" stroke="#5a5a5a" stroke-width="1"/>
<text x="606.5" y="132.6" font-family='"Liberation Sans", sans-serif' font-size="8" fill="#f4f4f4" text-anchor="start" >10&#956;m</text>
<rect x="603.8" y="134.2" width="26" height="1.2" fill="#f4f4f4"/>
<rect x="627" y="13.2" width="6" height="29" fill="url(#cbar)"/>
<text x="622.8" y="12" font-family='"Liberation Serif", serif' font-size="8" fill="#333" text-anchor="start" >&gt;474 cm<tspan font-size="5" dy="-3">-1</tspan></text>
<text x="637" y="30.8" font-family='"Liberation Serif", serif' font-size="8" fill="#333" text-anchor="start" >472 cm<tspan font-size="5" dy="-3">-1</tspan></text>
<text x="622.8" y="51" font-family='"Liberation Serif", serif' font-size="8" fill="#333" text-anchor="start" >&lt;470 cm<tspan font-size="5" dy="-3">-1</tspan></text>
<circle cx="473" cy="131" r="0.6" fill="#888"/>
<rect x="24.6" y="170.2" width="197.9" height="142.4" fill="none" stroke="#222" stroke-width="1.4"/>
<path d="M24.6,303.5H27.8M24.6,294.0H26.7M24.6,284.5H27.8M24.6,275.0H26.7M24.6,265.5H27.8M24.6,256.0H26.7M24.6,246.5H27.8M24.6,237.0H26.7M24.6,227.5H27.8M24.6,218.0H26.7M24.6,208.5H27.8M24.6,199.0H26.7M24.6,189.5H27.8M24.6,180.0H26.7M35.5,312.4V310.6M46.5,312.4V309.8M57.5,312.4V310.6M68.5,312.4V309.8M79.5,312.4V310.6M90.5,312.4V309.8M101.5,312.4V310.6M112.5,312.4V309.8M123.5,312.4V310.6M134.5,312.4V309.8M145.5,312.4V310.6M156.5,312.4V309.8M167.5,312.4V310.6M178.5,312.4V309.8M189.5,312.4V310.6M200.5,312.4V309.8M211.5,312.4V310.6" stroke="#222" stroke-width="1"/>
<text x="46.5" y="324.4" font-family='"Liberation Serif", serif' font-size="10" fill="#333" text-anchor="middle" >220</text>
<text x="68.5" y="324.4" font-family='"Liberation Serif", serif' font-size="10" fill="#333" text-anchor="middle" >230</text>
<text x="90.5" y="324.4" font-family='"Liberation Serif", serif' font-size="10" fill="#333" text-anchor="middle" >240</text>
<text x="112.5" y="324.4" font-family='"Liberation Serif", serif' font-size="10" fill="#333" text-anchor="middle" >250</text>
<text x="134.5" y="324.4" font-family='"Liberation Serif", serif' font-size="10" fill="#333" text-anchor="middle" >260</text>
<text x="156.5" y="324.4" font-family='"Liberation Serif", serif' font-size="10" fill="#333" text-anchor="middle" >270</text>
<text x="178.5" y="324.4" font-family='"Liberation Serif", serif' font-size="10" fill="#333" text-anchor="middle" >280</text>
<text x="200.5" y="324.4" font-family='"Liberation Serif", serif' font-size="10" fill="#333" text-anchor="middle" >290</text>
<text x="79.4" y="337.8" font-family='"Liberation Serif", serif' font-size="13" fill="#333" text-anchor="start" letter-spacing="0.2">Temperature (K)</text>
<text x="18.3" y="282.3" font-family='"Liberation Serif", serif' font-size="13.6" fill="#333" text-anchor="start" transform="rotate(-90 18.3 282.3)">Intensity (a.u.)</text>
<polyline points="24.5,303.1 46.5,294.8 68.5,264.6 112.5,217.9 134.5,206.2 156.5,190.9 178.5,197.6 200.5,185.0 218.1,185.0" fill="none" stroke="#3cc87d" stroke-width="1.3"/>
<polyline points="24.5,192.9 46.5,192.9 68.5,199.0 112.5,256.4 134.5,292.9 156.5,303.6 178.5,303.6 200.5,303.6 218.1,303.6" fill="none" stroke="#fcc81e" stroke-width="1.3"/>
<rect x="22.9" y="301.5" width="3.2" height="3.2" fill="#3cc87d"/>
<rect x="44.9" y="293.2" width="3.2" height="3.2" fill="#3cc87d"/>
<rect x="66.9" y="263.0" width="3.2" height="3.2" fill="#3cc87d"/>
<rect x="110.9" y="216.3" width="3.2" height="3.2" fill="#3cc87d"/>
<rect x="132.9" y="204.6" width="3.2" height="3.2" fill="#3cc87d"/>
<rect x="154.9" y="189.3" width="3.2" height="3.2" fill="#3cc87d"/>
<rect x="176.9" y="196.0" width="3.2" height="3.2" fill="#3cc87d"/>
<rect x="198.9" y="183.4" width="3.2" height="3.2" fill="#3cc87d"/>
<rect x="216.5" y="183.4" width="3.2" height="3.2" fill="#3cc87d"/>
<circle cx="24.5" cy="192.9" r="2.1" fill="#fcc81e"/>
<circle cx="46.5" cy="192.9" r="2.1" fill="#fcc81e"/>
<circle cx="68.5" cy="199.0" r="2.1" fill="#fcc81e"/>
<circle cx="112.5" cy="256.4" r="2.1" fill="#fcc81e"/>
<circle cx="134.5" cy="292.9" r="2.1" fill="#fcc81e"/>
<circle cx="156.5" cy="303.6" r="2.1" fill="#fcc81e"/>
<circle cx="178.5" cy="303.6" r="2.1" fill="#fcc81e"/>
<circle cx="200.5" cy="303.6" r="2.1" fill="#fcc81e"/>
<circle cx="218.1" cy="303.6" r="2.1" fill="#fcc81e"/>
<text x="145.9" y="213.7" font-family='"Liberation Serif", serif' font-size="10" fill="#333" text-anchor="start" >&#946;-Cu<tspan font-size="7">2</tspan>S (472cm<tspan font-size="6" dy="-4">-1</tspan><tspan dy="4"> )</tspan></text>
<text x="143.1" y="294.4" font-family='"Liberation Serif", serif' font-size="10" fill="#333" text-anchor="start" >&#947;-Cu<tspan font-size="7">2</tspan>S (474cm<tspan font-size="6" dy="-4">-1</tspan><tspan dy="4">)</tspan></text>
<rect x="262" y="175" width="156" height="141" fill="#080808"/>
<circle cx="338" cy="236" r="55" fill="url(#glowE)"/>
<g clip-path="url(#eclip)"><polygon points="255,262 318,232 326,216 350,215 358,230 356,248 346,256 322,262 255,295" fill="#050505" opacity="0.95" filter="url(#bl2)"/></g>
<circle cx="309.6" cy="179.1" r="3.5999999999999996" fill="url(#sp)" opacity="0.77"/>
<circle cx="371.6" cy="182.4" r="3.5999999999999996" fill="url(#sp)" opacity="0.77"/>
<circle cx="276.5" cy="195.7" r="3.84" fill="url(#sp)" opacity="0.8800000000000001"/>
<circle cx="339.8" cy="199.8" r="5.3999999999999995" fill="url(#sp)" opacity="1"/>
<circle cx="402.7" cy="201.9" r="3.84" fill="url(#sp)" opacity="0.8800000000000001"/>
<circle cx="306.7" cy="216.4" r="5.3999999999999995" fill="url(#sp)" opacity="1"/>
<circle cx="370.4" cy="218.4" r="5.3999999999999995" fill="url(#sp)" opacity="1"/>
<circle cx="274.4" cy="232.9" r="3.84" fill="url(#sp)" opacity="0.8800000000000001"/>
<circle cx="400.6" cy="237.1" r="3.84" fill="url(#sp)" opacity="0.8800000000000001"/>
<circle cx="368.7" cy="254.4" r="5.3999999999999995" fill="url(#sp)" opacity="1"/>
<circle cx="305.0" cy="253.0" r="3.0" fill="url(#sp)" opacity="0.55"/>
<circle cx="335.6" cy="271.4" r="6.0" fill="url(#sp)" opacity="1"/>
<circle cx="399.0" cy="274.2" r="3.84" fill="url(#sp)" opacity="0.935"/>
<circle cx="303.4" cy="287.5" r="3.84" fill="url(#sp)" opacity="0.8800000000000001"/>
<circle cx="366.7" cy="290.8" r="3.84" fill="url(#sp)" opacity="0.8800000000000001"/>
<circle cx="272.3" cy="306.6" r="3.5999999999999996" fill="url(#sp)" opacity="0.77"/>
<circle cx="335.6" cy="307.4" r="3.5999999999999996" fill="url(#sp)" opacity="0.77"/>
<circle cx="398.5" cy="309.5" r="3.5999999999999996" fill="url(#sp)" opacity="0.66"/>
<circle cx="290.0" cy="225.0" r="2.4" fill="url(#sp)" opacity="0.44000000000000006"/>
<circle cx="390.0" cy="256.0" r="2.4" fill="url(#sp)" opacity="0.385"/>
<circle cx="320.0" cy="262.0" r="2.4" fill="url(#sp)" opacity="0.385"/>
<circle cx="355.0" cy="180.0" r="2.4" fill="url(#sp)" opacity="0.33"/>
<polygon points="339.8,199.8 370.4,218.4 368.7,254.4 335.6,271.4 305.0,253.0 306.7,216.4" fill="none" stroke="#4a80d8" stroke-width="0.9" stroke-dasharray="1 1"/>
<polygon points="328.2,218.4 351.0,218.4 359.2,236.2 348.9,252.4 327.4,252.4 317.9,235.0" fill="none" stroke="#4a80d8" stroke-width="0.9" stroke-dasharray="1 1"/>
<text x="358" y="204.6" font-family='"Liberation Serif", serif' font-size="14.5" fill="#4a82e0" text-anchor="start" >&#947;-CuSe</text>
<text x="348.8" y="255.4" font-family='"Liberation Serif", serif' font-size="7.3" fill="#4a86e0" text-anchor="start" >(100)</text>
<text x="372.8" y="260.3" font-family='"Liberation Serif", serif' font-size="7" fill="#4a86e0" text-anchor="start" >(110)</text>
<text x="384" y="299.1" font-family='"Liberation Serif", serif' font-size="9.5" fill="#f0f0f0" text-anchor="start" >5 1/nm</text>
<rect x="382" y="301.3" width="29.2" height="1.9" fill="#fff"/>
<rect x="466.8" y="170.6" width="202.9" height="137" fill="none" stroke="#222" stroke-width="1.4"/>
<path d="M466.8,298.5H469.2M466.8,289.4H470.5M466.8,280.3H469.2M466.8,271.2H470.5M466.8,262.1H469.2M466.8,252.9H470.5M466.8,243.8H469.2M466.8,234.7H470.5M466.8,225.6H469.2M466.8,216.5H470.5M466.8,207.4H469.2M466.8,198.3H470.5M466.8,189.2H469.2M489.4,307.6V304.2M512.0,307.6V305.6M534.5,307.6V304.2M557.1,307.6V305.6M579.6,307.6V304.2M602.2,307.6V305.6M624.7,307.6V304.2M647.2,307.6V305.6" stroke="#222" stroke-width="1"/>
<text x="463.3" y="312.0" font-family='"Liberation Serif", serif' font-size="10.5" fill="#2a2a2a" text-anchor="end" >0.6</text>
<text x="463.3" y="293.78000000000003" font-family='"Liberation Serif", serif' font-size="10.5" fill="#2a2a2a" text-anchor="end" >0.7</text>
<text x="463.3" y="275.56" font-family='"Liberation Serif", serif' font-size="10.5" fill="#2a2a2a" text-anchor="end" >0.8</text>
<text x="463.3" y="257.34000000000003" font-family='"Liberation Serif", serif' font-size="10.5" fill="#2a2a2a" text-anchor="end" >0.9</text>
<text x="463.3" y="239.12000000000003" font-family='"Liberation Serif", serif' font-size="10.5" fill="#2a2a2a" text-anchor="end" >1.0</text>
<text x="463.3" y="220.9" font-family='"Liberation Serif", serif' font-size="10.5" fill="#2a2a2a" text-anchor="end" >1.1</text>
<text x="463.3" y="202.67999999999998" font-family='"Liberation Serif", serif' font-size="10.5" fill="#2a2a2a" text-anchor="end" >1.2</text>
<text x="463.3" y="184.46" font-family='"Liberation Serif", serif' font-size="10.5" fill="#2a2a2a" text-anchor="end" >1.3</text>
<text x="490.40000000000003" y="320.9" font-family='"Liberation Serif", serif' font-size="12.7" fill="#2a2a2a" text-anchor="middle" >400</text>
<text x="535.5" y="320.9" font-family='"Liberation Serif", serif' font-size="12.7" fill="#2a2a2a" text-anchor="middle" >500</text>
<text x="580.6" y="320.9" font-family='"Liberation Serif", serif' font-size="12.7" fill="#2a2a2a" text-anchor="middle" >600</text>
<text x="625.7" y="320.9" font-family='"Liberation Serif", serif' font-size="12.7" fill="#2a2a2a" text-anchor="middle" >700</text>
<text x="670.8000000000001" y="320.9" font-family='"Liberation Serif", serif' font-size="12.7" fill="#2a2a2a" text-anchor="middle" >800</text>
<text x="512.7" y="337.4" font-family='"Liberation Serif", serif' font-size="15" fill="#2a2a2a" text-anchor="start" letter-spacing="0.78">Wavelength(nm)</text>
<text x="446.8" y="268.5" font-family='"Liberation Sans", sans-serif' font-size="9.6" fill="#2a2a2a" text-anchor="start" textLength="47" lengthAdjust="spacingAndGlyphs" transform="rotate(-90 446.8 268.5)">absorbance</text>
<path d="M466.80,184.82 L467.30,185.17 L467.80,185.59 L468.30,186.07 L468.80,186.60 L469.30,187.17 L469.80,187.74 L470.30,188.33 L470.80,188.93 L471.30,189.52 L471.80,190.13 L472.30,190.74 L472.80,191.36 L473.30,191.99 L473.80,192.62 L474.30,193.25 L474.80,193.88 L475.30,194.48 L475.80,195.05 L476.30,195.59 L476.80,196.09 L477.30,196.55 L477.80,196.99 L478.30,197.40 L478.80,197.80 L479.30,198.19 L479.80,198.57 L480.30,198.95 L480.80,199.33 L481.30,199.71 L481.80,200.09 L482.30,200.47 L482.80,200.84 L483.30,201.20 L483.80,201.55 L484.30,201.88 L484.80,202.19 L485.30,202.48 L485.80,202.75 L486.30,203.00 L486.80,203.23 L487.30,203.45 L487.80,203.66 L488.30,203.86 L488.80,204.06 L489.30,204.25 L489.80,204.43 L490.30,204.60 L490.80,204.77 L491.30,204.93 L491.80,205.08 L492.30,205.23 L492.80,205.38 L493.30,205.53 L493.80,205.68 L494.30,205.82 L494.80,205.97 L495.30,206.12 L495.80,206.28 L496.30,206.45 L496.80,206.63 L497.30,206.83 L497.80,207.04 L498.30,207.27 L498.80,207.50 L499.30,207.72 L499.80,207.93 L500.30,208.12 L500.80,208.27 L501.30,208.41 L501.80,208.53 L502.30,208.64 L502.80,208.75 L503.30,208.87 L503.80,209.00 L504.30,209.14 L504.80,209.30 L505.30,209.48 L505.80,209.66 L506.30,209.85 L506.80,210.05 L507.30,210.26 L507.80,210.48 L508.30,210.71 L508.80,210.95 L509.30,211.21 L509.80,211.47 L510.30,211.74 L510.80,212.02 L511.30,212.30 L511.80,212.59 L512.30,212.88 L512.80,213.18 L513.30,213.49 L513.80,213.80 L514.30,214.13 L514.80,214.47 L515.30,214.82 L515.80,215.19 L516.30,215.58 L516.80,215.97 L517.30,216.37 L517.80,216.78 L518.30,217.20 L518.80,217.62 L519.30,218.04 L519.80,218.47 L520.30,218.90 L520.80,219.35 L521.30,219.79 L521.80,220.25 L522.30,220.71 L522.80,221.18 L523.30,221.65 L523.80,222.12 L524.30,222.60 L524.80,223.08 L525.30,223.57 L525.80,224.07 L526.30,224.57 L526.80,225.08 L527.30,225.60 L527.80,226.12 L528.30,226.65 L528.80,227.18 L529.30,227.71 L529.80,228.24 L530.30,228.79 L530.80,229.34 L531.30,229.89 L531.80,230.45 L532.30,231.02 L532.80,231.60 L533.30,232.18 L533.80,232.76 L534.30,233.34 L534.80,233.93 L535.30,234.51 L535.80,235.10 L536.30,235.68 L536.80,236.27 L537.30,236.85 L537.80,237.44 L538.30,238.02 L538.80,238.60 L539.30,239.19 L539.80,239.76 L540.30,240.34 L540.80,240.90 L541.30,241.46 L541.80,242.01 L542.30,242.54 L542.80,243.07 L543.30,243.58 L543.80,244.09 L544.30,244.60 L544.80,245.10 L545.30,245.60 L545.80,246.10 L546.30,246.59 L546.80,247.09 L547.30,247.59 L547.80,248.08 L548.30,248.57 L548.80,249.06 L549.30,249.56 L549.80,250.05 L550.30,250.54 L550.80,251.03 L551.30,251.51 L551.80,252.00 L552.30,252.49 L552.80,252.97 L553.30,253.46 L553.80,253.94 L554.30,254.42 L554.80,254.91 L555.30,255.39 L555.80,255.88 L556.30,256.38 L556.80,256.89 L557.30,257.41 L557.80,257.94 L558.30,258.49 L558.80,259.04 L559.30,259.61 L559.80,260.18 L560.30,260.76 L560.80,261.34 L561.30,261.92 L561.80,262.50 L562.30,263.09 L562.80,263.66 L563.30,264.24 L563.80,264.80 L564.30,265.36 L564.80,265.91 L565.30,266.44 L565.80,266.97 L566.30,267.48 L566.80,267.99 L567.30,268.49 L567.80,268.98 L568.30,269.47 L568.80,269.96 L569.30,270.43 L569.80,270.90 L570.30,271.35 L570.80,271.80 L571.30,272.25 L571.80,272.68 L572.30,273.12 L572.80,273.54 L573.30,273.97 L573.80,274.38 L574.30,274.78 L574.80,275.18 L575.30,275.57 L575.80,275.95 L576.30,276.33 L576.80,276.70 L577.30,277.07 L577.80,277.44 L578.30,277.80 L578.80,278.15 L579.30,278.50 L579.80,278.84 L580.30,279.18 L580.80,279.51 L581.30,279.84 L581.80,280.17 L582.30,280.49 L582.80,280.81 L583.30,281.12 L583.80,281.43 L584.30,281.74 L584.80,282.03 L585.30,282.33 L585.80,282.62 L586.30,282.91 L586.80,283.20 L587.30,283.49 L587.80,283.78 L588.30,284.07 L588.80,284.36 L589.30,284.65 L589.80,284.94 L590.30,285.23 L590.80,285.52 L591.30,285.81 L591.80,286.09 L592.30,286.37 L592.80,286.64 L593.30,286.91 L593.80,287.17 L594.30,287.43 L594.80,287.68 L595.30,287.93 L595.80,288.18 L596.30,288.42 L596.80,288.67 L597.30,288.92 L597.80,289.16 L598.30,289.40 L598.80,289.64 L599.30,289.87 L599.80,290.09 L600.30,290.31 L600.80,290.53 L601.30,290.73 L601.80,290.93 L602.30,291.13 L602.80,291.33 L603.30,291.53 L603.80,291.72 L604.30,291.92 L604.80,292.11 L605.30,292.31 L605.80,292.50 L606.30,292.69 L606.80,292.88 L607.30,293.07 L607.80,293.26 L608.30,293.45 L608.80,293.64 L609.30,293.82 L609.80,294.01 L610.30,294.20 L610.80,294.38 L611.30,294.56 L611.80,294.73 L612.30,294.89 L612.80,295.05 L613.30,295.20 L613.80,295.33 L614.30,295.47 L614.80,295.59 L615.30,295.72 L615.80,295.84 L616.30,295.95 L616.80,296.07 L617.30,296.18 L617.80,296.29 L618.30,296.39 L618.80,296.48 L619.30,296.56 L619.80,296.64 L620.30,296.70 L620.80,296.76 L621.30,296.81 L621.80,296.86 L622.30,296.91 L622.80,296.96 L623.30,297.00 L623.80,297.05 L624.30,297.08 L624.80,297.12 L625.30,297.14 L625.80,297.16 L626.30,297.18 L626.80,297.19 L627.30,297.19 L627.80,297.20 L628.30,297.20 L628.80,297.20 L629.30,297.20 L629.80,297.19 L630.30,297.19 L630.80,297.18 L631.30,297.16 L631.80,297.14 L632.30,297.11 L632.80,297.08 L633.30,297.04 L633.80,296.99 L634.30,296.95 L634.80,296.90 L635.30,296.85 L635.80,296.80 L636.30,296.75 L636.80,296.69 L637.30,296.63 L637.80,296.56 L638.30,296.49 L638.80,296.41 L639.30,296.32 L639.80,296.23 L640.30,296.13 L640.80,296.03 L641.30,295.93 L641.80,295.83 L642.30,295.72 L642.80,295.62 L643.30,295.52 L643.80,295.41 L644.30,295.30 L644.80,295.19 L645.30,295.08 L645.80,294.96 L646.30,294.85 L646.80,294.73 L647.30,294.61 L647.80,294.49 L648.30,294.37 L648.80,294.25 L649.30,294.13 L649.80,294.01 L650.30,293.89 L650.80,293.77 L651.30,293.64 L651.80,293.52 L652.30,293.39 L652.80,293.27 L653.30,293.14 L653.80,293.01 L654.30,292.89 L654.80,292.76 L655.30,292.64 L655.80,292.51 L656.30,292.39 L656.80,292.28 L657.30,292.16 L657.80,292.05 L658.30,291.94 L658.80,291.84 L659.30,291.73 L659.80,291.63 L660.30,291.53 L660.80,291.43 L661.30,291.33 L661.80,291.23 L662.30,291.13 L662.80,291.03 L663.30,290.94 L663.80,290.85 L664.30,290.76 L664.80,290.67 L665.30,290.59 L665.80,290.50 L666.30,290.42 L666.80,290.34 L667.30,290.26 L667.80,290.19 L668.30,290.12 L668.80,290.06 L669.30,290.02" fill="none" stroke="#f01c24" stroke-width="1.6" stroke-linejoin="round"/>
<rect x="566.6" y="177" width="93.1" height="63" fill="#fff" stroke="#222" stroke-width="1.1"/>
<line x1="566" y1="177" x2="660.3" y2="177" stroke="#222" stroke-width="1.6"/>
<path d="M579.9,240V237.8M606.5,240V237.8M633.1,240V237.8M659.7,240V237.8M593.2,240V238.6M619.8,240V238.6M646.4,240V238.6M566.6,224.2H568.8M566.6,208.4H568.8M566.6,192.5H568.8M566.6,176.7H568.8M566.6,232.1H568M566.6,216.3H568M566.6,200.4H568M566.6,184.6H568" stroke="#222" stroke-width="0.8"/>
<text transform="translate(579.9 246.7) scale(1.18 1)" font-family='"Liberation Serif", serif' font-size="6.3" fill="#333" text-anchor="middle">1.5</text>
<text transform="translate(606.5 246.7) scale(1.18 1)" font-family='"Liberation Serif", serif' font-size="6.3" fill="#333" text-anchor="middle">2.0</text>
<text transform="translate(633.1 246.7) scale(1.18 1)" font-family='"Liberation Serif", serif' font-size="6.3" fill="#333" text-anchor="middle">2.5</text>
<text transform="translate(659.7 246.7) scale(1.18 1)" font-family='"Liberation Serif", serif' font-size="6.3" fill="#333" text-anchor="middle">3.0</text>
<text transform="translate(565.2 242.1) scale(1.18 1)" font-family='"Liberation Serif", serif' font-size="6.3" fill="#333" text-anchor="end">0</text>
<text transform="translate(565.2 226.28) scale(1.18 1)" font-family='"Liberation Serif", serif' font-size="6.3" fill="#333" text-anchor="end">0.02</text>
<text transform="translate(565.2 210.46) scale(1.18 1)" font-family='"Liberation Serif", serif' font-size="6.3" fill="#333" text-anchor="end">0.04</text>
<text transform="translate(565.2 194.64) scale(1.18 1)" font-family='"Liberation Serif", serif' font-size="6.3" fill="#333" text-anchor="end">0.06</text>
<text transform="translate(565.2 178.82) scale(1.18 1)" font-family='"Liberation Serif", serif' font-size="6.3" fill="#333" text-anchor="end">0.08</text>
<text transform="translate(600.2 252.7) scale(1.16 1)" font-family='"Liberation Serif", serif' font-size="6.6" fill="#333" text-anchor="start">Energy(eV)</text>
<text transform="translate(550.6 226.8) rotate(-90) scale(1.12 1)" font-family='"Liberation Serif", serif' font-size="6" fill="#333" text-anchor="start">(&#945;h&#957;)<tspan font-size="4" dy="-2">2</tspan><tspan dy="2">(eV nm</tspan><tspan font-size="4" dy="-2">-1</tspan><tspan dy="2">)</tspan><tspan font-size="4" dy="-2">2</tspan></text>
<line x1="602.9" y1="240" x2="620" y2="222.5" stroke="#333" stroke-width="0.8" stroke-dasharray="0.9 1.1"/>
<path d="M567.00,234.60 L567.50,234.59 L568.00,234.59 L568.50,234.59 L569.00,234.58 L569.50,234.58 L570.00,234.58 L570.50,234.57 L571.00,234.57 L571.50,234.57 L572.00,234.56 L572.50,234.56 L573.00,234.55 L573.50,234.55 L574.00,234.55 L574.50,234.54 L575.00,234.54 L575.50,234.53 L576.00,234.53 L576.50,234.53 L577.00,234.52 L577.50,234.52 L578.00,234.51 L578.50,234.51 L579.00,234.50 L579.50,234.49 L580.00,234.47 L580.50,234.46 L581.00,234.44 L581.50,234.42 L582.00,234.40 L582.50,234.37 L583.00,234.35 L583.50,234.32 L584.00,234.30 L584.50,234.27 L585.00,234.25 L585.50,234.22 L586.00,234.20 L586.50,234.17 L587.00,234.15 L587.50,234.12 L588.00,234.09 L588.50,234.06 L589.00,234.02 L589.50,233.98 L590.00,233.93 L590.50,233.87 L591.00,233.80 L591.50,233.73 L592.00,233.65 L592.50,233.57 L593.00,233.48 L593.50,233.40 L594.00,233.31 L594.50,233.23 L595.00,233.14 L595.50,233.05 L596.00,232.95 L596.50,232.85 L597.00,232.74 L597.50,232.63 L598.00,232.51 L598.50,232.39 L599.00,232.26 L599.50,232.13 L600.00,232.00 L600.50,231.86 L601.00,231.73 L601.50,231.59 L602.00,231.45 L602.50,231.31 L603.00,231.16 L603.50,231.00 L604.00,230.84 L604.50,230.68 L605.00,230.51 L605.50,230.34 L606.00,230.17 L606.50,230.00 L607.00,229.81 L607.50,229.62 L608.00,229.43 L608.50,229.22 L609.00,229.01 L609.50,228.79 L610.00,228.57 L610.50,228.34 L611.00,228.11 L611.50,227.86 L612.00,227.61 L612.50,227.35 L613.00,227.07 L613.50,226.78 L614.00,226.47 L614.50,226.15 L615.00,225.82 L615.50,225.49 L616.00,225.15 L616.50,224.80 L617.00,224.44 L617.50,224.08 L618.00,223.71 L618.50,223.32 L619.00,222.92 L619.50,222.52 L620.00,222.11 L620.50,221.69 L621.00,221.27 L621.50,220.84 L622.00,220.40 L622.50,219.96 L623.00,219.51 L623.50,219.04 L624.00,218.56 L624.50,218.08 L625.00,217.59 L625.50,217.09 L626.00,216.60 L626.50,216.10 L627.00,215.60 L627.50,215.09 L628.00,214.59 L628.50,214.08 L629.00,213.58 L629.50,213.07 L630.00,212.56 L630.50,212.05 L631.00,211.54 L631.50,211.03 L632.00,210.51 L632.50,209.99 L633.00,209.48 L633.50,208.95 L634.00,208.43 L634.50,207.91 L635.00,207.38 L635.50,206.85 L636.00,206.32 L636.50,205.80 L637.00,205.27 L637.50,204.75 L638.00,204.24 L638.50,203.72 L639.00,203.21 L639.50,202.71 L640.00,202.20 L640.50,201.70 L641.00,201.20 L641.50,200.71 L642.00,200.21 L642.50,199.72 L643.00,199.24 L643.50,198.75 L644.00,198.27 L644.50,197.80 L645.00,197.32 L645.50,196.85 L646.00,196.39 L646.50,195.92 L647.00,195.46 L647.50,195.00 L648.00,194.55 L648.50,194.10 L649.00,193.66 L649.50,193.22 L650.00,192.79 L650.50,192.36 L651.00,191.93 L651.50,191.51 L652.00,191.09 L652.50,190.68 L653.00,190.28 L653.50,189.88 L654.00,189.50 L654.50,189.12 L655.00,188.75 L655.50,188.38 L656.00,188.01 L656.50,187.65 L657.00,187.30 L657.50,186.95 L658.00,186.63 L658.50,186.34 L659.00,186.09 L659.50,185.88" fill="none" stroke="#f01c24" stroke-width="1.4"/>
<path d="M620,222 L659.7,185.3" stroke="#222" stroke-width="0.6" stroke-dasharray="0.9 1.1" opacity="0.7"/>
<text x="621.5" y="233" font-family='"Liberation Serif", serif' font-size="8.3" fill="#2a2a2a" text-anchor="start" >E<tspan font-size="5.2" dy="1.8">g</tspan><tspan dy="-1.8">=1.91eV</tspan></text>
</svg></body></html>
